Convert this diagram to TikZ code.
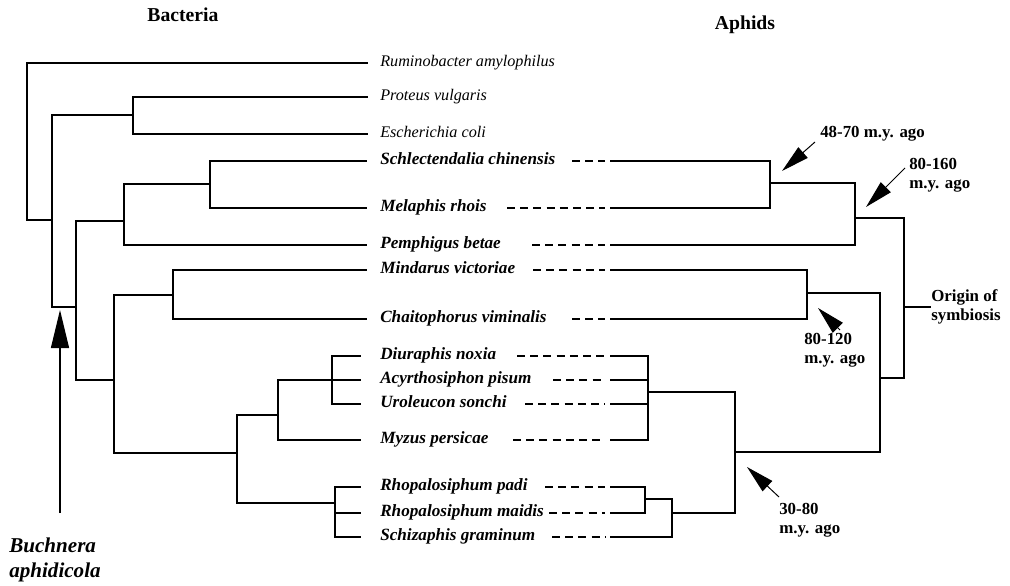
\documentclass[tikz,border=0pt]{standalone}
\usepackage{fontspec}
\setmainfont{Liberation Serif}
\usetikzlibrary{arrows.meta}

\tikzset{
  branch/.style={draw, line width=1.2pt},
  link/.style={draw, line width=1.2pt, dash pattern=on 0.2cm off 0.13cm},
  taxon/.style={anchor=west, inner sep=0pt, text height=1.6ex, text depth=0.45ex,
    font=\fontsize{11.5}{13}\selectfont\itshape},
  host/.style={taxon, font=\fontsize{12.2}{13}\selectfont\itshape\bfseries},
  age/.style={anchor=north west, align=left, inner sep=0pt,
    font=\fontsize{12}{13.5}\selectfont\bfseries},
  head/.style={font=\fontsize{14}{16}\selectfont\bfseries},
  ptr/.style={draw, line width=0.7pt, -{Triangle[length=0.7cm, width=0.35cm]}},
  bigptr/.style={draw, line width=0.9pt, -{Triangle[length=0.95cm, width=0.45cm]}}
}

\begin{document}
\begin{tikzpicture}[x=0.025cm, y=-0.025cm]
  \useasboundingbox (0,0) rectangle (1010,585);

  % headings
  \node[head] (bac) at (183,15) {Bacteria};
  \node[head] (aph) at (745,25) {Aphids};

  % free-living bacteria
  \foreach \n/\y/\t in {rum/63/{Ruminobacter amylophilus},pro/97/{Proteus vulgaris},
      esc/134/{Escherichia coli}}{
    \node[taxon] (\n) at (380,\y) {\t};
    \coordinate (\n-l) at (368,\y);
  }
  % Buchnera strains, with their aphid hosts
  \foreach \n/\y/\lx/\d/\t in {sch/161/367/572/{Schlectendalia chinensis},
      mel/208/367/507/{Melaphis rhois},pem/245/367/532/{Pemphigus betae},
      min/270/367/533/{Mindarus victoriae},cha/319/367/572/{Chaitophorus viminalis},
      diu/356/361/517/{Diuraphis noxia},acy/380/361/553/{Acyrthosiphon pisum},
      uro/404/361/525/{Uroleucon sonchi},myz/440/361/513/{Myzus persicae},
      rpa/487/361/545/{Rhopalosiphum padi},rma/513/361/549/{Rhopalosiphum maidis},
      sgr/537/361/552/{Schizaphis graminum}}{
    \node[host] (\n) at (380,\y) {\t};
    \coordinate (\n-l) at (\lx,\y);
    \coordinate (\n-s) at (\d,\y);
    \coordinate (\n-e) at (605,\y);
    \coordinate (\n-r) at (610,\y);
    \draw[link] (\n-s) -- (\n-e);
  }

  % bacterial tree
  \coordinate (L0) at (27,140);
  \coordinate (L1) at (52,220);
  \coordinate (L2) at (133,115);
  \coordinate (L3) at (76,307);
  \coordinate (L4) at (124,221);
  \coordinate (L5) at (210,184);
  \coordinate (L6) at (114,380);
  \coordinate (L7) at (173,295);
  \coordinate (L8) at (237,453);
  \coordinate (L9) at (278,415);
  \coordinate (L10) at (332,380);
  \coordinate (L11) at (335,503);
  \draw[branch] (L0) |- (rum-l) (L0) |- (L1)
    (L1) |- (L2) (L1) |- (L3)
    (L2) |- (pro-l) (L2) |- (esc-l)
    (L3) |- (L4) (L3) |- (L6)
    (L4) |- (L5) (L4) |- (pem-l)
    (L5) |- (sch-l) (L5) |- (mel-l)
    (L6) |- (L7) (L6) |- (L8)
    (L7) |- (min-l) (L7) |- (cha-l)
    (L8) |- (L9) (L8) |- (L11)
    (L9) |- (L10) (L9) |- (myz-l)
    (L10) |- (diu-l) (L10) |- (acy-l) (L10) |- (uro-l)
    (L11) |- (rpa-l) (L11) |- (rma-l) (L11) |- (sgr-l);

  % aphid tree
  \coordinate (R0) at (904,307);
  \coordinate (R1) at (855,218);
  \coordinate (R2) at (770,183);
  \coordinate (R3) at (880,378);
  \coordinate (R4) at (807,293);
  \coordinate (R5) at (735,452);
  \coordinate (R6) at (648,392);
  \coordinate (R7) at (672,513);
  \coordinate (R8) at (645,499);
  \draw[branch] (R0) |- (R1) (R0) |- (R3)
    (R1) |- (R2) (R1) |- (pem-r)
    (R2) |- (sch-r) (R2) |- (mel-r)
    (R3) |- (R4) (R3) |- (R5)
    (R4) |- (min-r) (R4) |- (cha-r)
    (R5) |- (R6) (R5) |- (R7)
    (R6) |- (diu-r) (R6) |- (acy-r) (R6) |- (uro-r) (R6) |- (myz-r)
    (R7) |- (R8) (R7) |- (sgr-r)
    (R8) |- (rpa-r) (R8) |- (rma-r);

  \node[age, anchor=west] (org) at (931,307) {Origin of\\symbiosis};
  \draw[branch, line width=1pt] (R0) -- (org);

  % dates
  \node[age, anchor=west] (d1) at (820,134) {48-70 m.y. ago};
  \node[age] (d2) at (909,158) {80-160\\m.y. ago};
  \node[age] (d3) at (804,333) {80-120\\m.y. ago};
  \node[age] (d4) at (779,503) {30-80\\m.y. ago};
  \coordinate (d1-t) at (815,142); \coordinate (d1-h) at (782,171);
  \coordinate (d2-t) at (905,168); \coordinate (d2-h) at (866,207);
  \coordinate (d3-t) at (840,330); \coordinate (d3-h) at (818,308);
  \coordinate (d4-t) at (779,497); \coordinate (d4-h) at (747,467);
  \draw[ptr] (d1-t) -- (d1-h);
  \draw[ptr] (d2-t) -- (d2-h);
  \draw[ptr] (d3-t) -- (d3-h);
  \draw[ptr] (d4-t) -- (d4-h);

  % Buchnera
  \node[anchor=north west, align=left, inner sep=0pt,
    font=\fontsize{15}{17.5}\selectfont\itshape\bfseries] (buc) at (9,538) {Buchnera\\aphidicola};
  \coordinate (buc-t) at (60,513);
  \coordinate (buc-h) at (60,310);
  \draw[bigptr] (buc-t) -- (buc-h);
\end{tikzpicture}
\end{document}
